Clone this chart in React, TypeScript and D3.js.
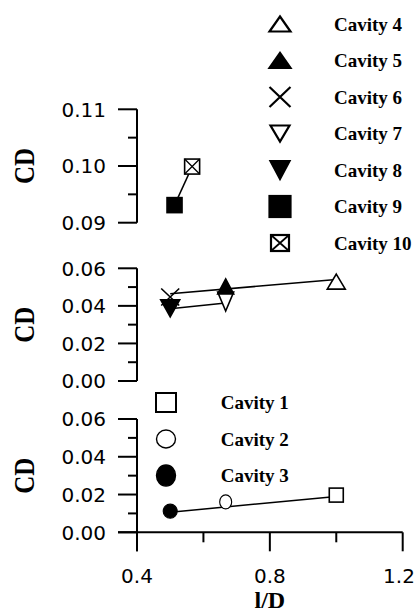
import React from "react";
import * as d3 from "d3";

// l/D positions and drag coefficients for each cavity
const cavities = ["Cavity 1", "Cavity 2", "Cavity 3", "Cavity 4", "Cavity 5", "Cavity 6", "Cavity 7", "Cavity 8", "Cavity 9", "Cavity 10"];
const lOverD = [1.0, 0.667, 0.5, 1.0, 0.667, 0.5, 0.667, 0.5, 0.513, 0.566];
const cdValues = [0.0197, 0.0161, 0.0112, 0.0529, 0.0504, 0.0447, 0.0423, 0.0387, 0.0931, 0.0999];
const panelOf = [2, 2, 2, 1, 1, 1, 1, 1, 0, 0];
const markerOf = ["square", "circle", "circleFilled", "triUp", "triUpFilled", "cross", "triDown", "triDownFilled", "squareFilled", "boxCross"];

// fitted trend lines per panel: [x0, y0, x1, y1]
const trendPanel = [0, 1, 1, 2];
const trendLines = [
  [0.513, 0.0931, 0.566, 0.0999],
  [0.5, 0.0464, 1.0, 0.0541],
  [0.5, 0.0385, 0.667, 0.0415],
  [0.5, 0.0106, 1.0, 0.019],
];

// axis ticks
const xTicks = [0.4, 0.8, 1.2];
const xMinorTicks = [0.6, 1.0];
const topTicks = [0.09, 0.1, 0.11];
const topMinor = [0.095, 0.105];
const lowTicks = [0, 0.02, 0.04, 0.06];
const lowMinor = [0.01, 0.03, 0.05];

const W = 416;
const H = 614;
const x = d3.scaleLinear().domain([0.4, 1.2]).range([137, 402.7]);
const yScales = [
  d3.scaleLinear().domain([0.09, 0.11]).range([222.7, 109.3]),
  d3.scaleLinear().domain([0, 0.06]).range([381, 268.3]),
  d3.scaleLinear().domain([0, 0.06]).range([532.3, 419]),
];

type MarkerProps = { kind: string; cx: number; cy: number; w: number; h: number; sw?: number };

function Marker({ kind, cx, cy, w, h, sw = 1.8 }: MarkerProps) {
  const hw = w / 2;
  const hh = h / 2;
  const common = { stroke: "#000", strokeWidth: sw, strokeLinejoin: "miter" as const };
  switch (kind) {
    case "triUp":
    case "triUpFilled":
      return (
        <polygon
          points={`${cx},${cy - hh} ${cx + hw},${cy + hh} ${cx - hw},${cy + hh}`}
          fill={kind === "triUpFilled" ? "#000" : "#fff"}
          {...common}
        />
      );
    case "triDown":
    case "triDownFilled":
      return (
        <polygon
          points={`${cx - hw},${cy - hh} ${cx + hw},${cy - hh} ${cx},${cy + hh}`}
          fill={kind === "triDownFilled" ? "#000" : "#fff"}
          {...common}
        />
      );
    case "cross":
      return (
        <path
          d={`M${cx - hw},${cy - hh}L${cx + hw},${cy + hh}M${cx - hw},${cy + hh}L${cx + hw},${cy - hh}`}
          fill="none"
          {...common}
        />
      );
    case "square":
    case "squareFilled":
      return (
        <rect
          x={cx - hw}
          y={cy - hh}
          width={w}
          height={h}
          fill={kind === "squareFilled" ? "#000" : "#fff"}
          {...common}
        />
      );
    case "boxCross":
      return (
        <g>
          <rect x={cx - hw} y={cy - hh} width={w} height={h} fill="#fff" {...common} />
          <path
            d={`M${cx - hw},${cy - hh}L${cx + hw},${cy + hh}M${cx - hw},${cy + hh}L${cx + hw},${cy - hh}`}
            fill="none"
            {...common}
            strokeWidth={sw * 0.8}
          />
        </g>
      );
    case "circle":
    case "circleFilled":
      return (
        <ellipse cx={cx} cy={cy} rx={hw} ry={hh} fill={kind === "circleFilled" ? "#000" : "#fff"} {...common} strokeWidth={sw * 0.7} />
      );
    default:
      return null;
  }
}

// marker size on the plot, [w, h]
const dataSize: Record<string, [number, number]> = {
  square: [14, 14],
  circle: [12, 14],
  circleFilled: [14, 14],
  triUp: [18, 15],
  triUpFilled: [16, 15],
  cross: [18, 17],
  triDown: [16, 19],
  triDownFilled: [19, 17],
  squareFilled: [15, 15],
  boxCross: [15, 15],
};

// marker size in the legends, [w, h]
const legendSize: Record<string, [number, number]> = {
  square: [20, 19],
  circle: [19, 18],
  circleFilled: [19, 21],
  triUp: [21, 15],
  triUpFilled: [21, 15],
  cross: [21, 20],
  triDown: [19, 16],
  triDownFilled: [19, 18],
  squareFilled: [21, 21],
  boxCross: [18, 16],
};

const drawOrder = [0, 1, 2, 5, 7, 6, 4, 3, 8, 9];

const sans = "'DejaVu Sans', sans-serif";
const serif = "'Liberation Serif', 'Times New Roman', serif";

export default function App() {
  const axisX = x(0.4);
  const tickLen = 19;
  const minorLen = 9;

  const panels = [
    { scale: yScales[0], ticks: topTicks, minor: topMinor, fmt: d3.format(".2f") },
    { scale: yScales[1], ticks: lowTicks, minor: lowMinor, fmt: d3.format(".2f") },
    { scale: yScales[2], ticks: lowTicks, minor: lowMinor, fmt: d3.format(".2f") },
  ];

  const bottomY = yScales[2](0);

  // legend groups: cavities 4-10 on the right, cavities 1-3 inside the bottom panel
  const legendRight = [3, 4, 5, 6, 7, 8, 9];
  const legendLow = [0, 1, 2];

  return (
    <svg
      width={W}
      height={H}
      viewBox={`0 0 ${W} ${H}`}
      style={{ position: "absolute", left: 0, top: 0, background: "#fff" }}
    >
      {/* y axes */}
      {panels.map((p, i) => {
        const [y0, y1] = p.scale.range();
        const extra = i === 2 ? tickLen : 0;
        return (
          <g key={`ax${i}`}>
            <line x1={axisX} x2={axisX} y1={y1} y2={y0 + extra} stroke="#000" strokeWidth={2} />
            {p.ticks.map((t) => (
              <g key={`t${t}`}>
                <line x1={axisX - tickLen} x2={axisX} y1={p.scale(t)} y2={p.scale(t)} stroke="#000" strokeWidth={2} />
                <text
                  x={106}
                  y={p.scale(t)}
                  dy="0.36em"
                  textAnchor="end"
                  fontFamily={sans}
                  fontSize={20}
                  fill="#000"
                >
                  {p.fmt(t)}
                </text>
              </g>
            ))}
            {p.minor.map((t) => (
              <line key={`m${t}`} x1={axisX - minorLen} x2={axisX} y1={p.scale(t)} y2={p.scale(t)} stroke="#000" strokeWidth={2} />
            ))}
            <text
              transform={`translate(23.5,${(y0 + y1) / 2}) rotate(-90) scale(1,1.2)`}
              dy="0.34em"
              textAnchor="middle"
              fontFamily={serif}
              fontWeight="bold"
              fontSize={25}
              fill="#000"
            >
              CD
            </text>
          </g>
        );
      })}

      {/* x axis */}
      <line x1={axisX - tickLen} x2={x(1.2)} y1={bottomY} y2={bottomY} stroke="#000" strokeWidth={2} />
      {xTicks.map((t) => {
        // keep the last label inside the right edge
        const lx = Math.min(x(t), W - 17);
        return (
          <g key={`xt${t}`}>
            <line x1={x(t)} x2={x(t)} y1={bottomY} y2={bottomY + tickLen} stroke="#000" strokeWidth={2} />
            <text x={lx} y={583} textAnchor="middle" fontFamily={sans} fontSize={20} fill="#000">
              {d3.format(".1f")(t)}
            </text>
          </g>
        );
      })}
      {xMinorTicks.map((t) => (
        <line key={`xm${t}`} x1={x(t)} x2={x(t)} y1={bottomY} y2={bottomY + 10} stroke="#000" strokeWidth={2} />
      ))}
      <text x={x(0.8)} y={608} textAnchor="middle" fontFamily={serif} fontWeight="bold" fontSize={24} fill="#000">
        l/D
      </text>

      {/* trend lines */}
      {trendLines.map((l, i) => {
        const ys = yScales[trendPanel[i]];
        return (
          <line
            key={`tl${i}`}
            x1={x(l[0])}
            y1={ys(l[1])}
            x2={x(l[2])}
            y2={ys(l[3])}
            stroke="#000"
            strokeWidth={1.5}
          />
        );
      })}

      {/* data markers */}
      {drawOrder.map((i) => {
        const kind = markerOf[i];
        const [w, h] = dataSize[kind];
        return (
          <Marker
            key={`pt${i}`}
            kind={kind}
            cx={x(lOverD[i])}
            cy={yScales[panelOf[i]](cdValues[i])}
            w={w}
            h={h}
            sw={1.6}
          />
        );
      })}

      {/* legend, cavities 4-10 */}
      {legendRight.map((idx, j) => {
        const cy = 24 + j * 36.5;
        const kind = markerOf[idx];
        const [w, h] = legendSize[kind];
        return (
          <g key={`lr${idx}`}>
            <Marker kind={kind} cx={280} cy={cy} w={w} h={h} sw={2.2} />
            <text x={334} y={cy + 6.5} fontFamily={serif} fontWeight="bold" fontSize={19} fill="#000">
              {cavities[idx]}
            </text>
          </g>
        );
      })}

      {/* legend, cavities 1-3 */}
      {legendLow.map((idx, j) => {
        const cy = 402.5 + j * 36.5;
        const kind = markerOf[idx];
        const [w, h] = legendSize[kind];
        return (
          <g key={`ll${idx}`}>
            <Marker kind={kind} cx={166} cy={cy} w={w} h={h} sw={2} />
            <text x={220.7} y={cy + 6.5} fontFamily={serif} fontWeight="bold" fontSize={19} fill="#000">
              {cavities[idx]}
            </text>
          </g>
        );
      })}
    </svg>
  );
}
